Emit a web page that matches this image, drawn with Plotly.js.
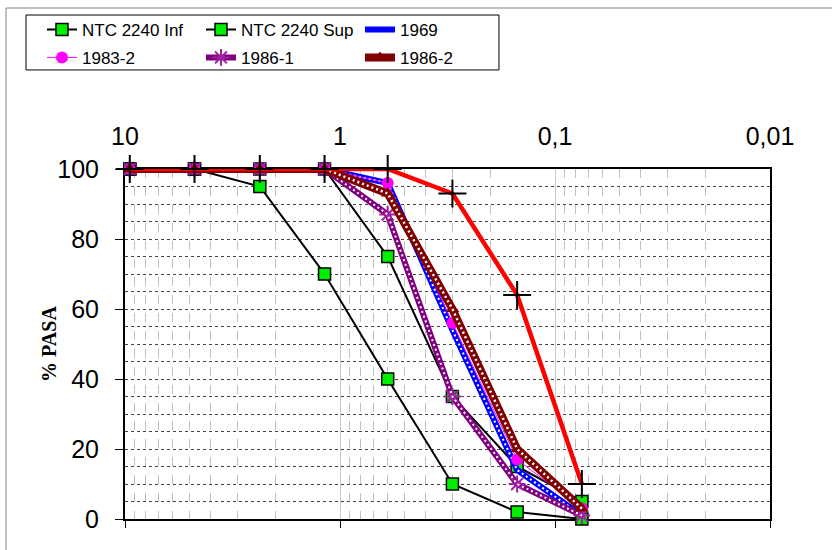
<!DOCTYPE html>
<html>
<head>
<meta charset="utf-8">
<script src="https://cdn.plot.ly/plotly-3.0.1.min.js"></script>
<style>
  html, body { margin: 0; padding: 0; background: #fff; }
  #chart { width: 832px; height: 550px; }
</style>
</head>
<body>
<div id="chart"></div>
<script>
// Sieve openings (mm)
const sizes = [9.5, 4.75, 2.36, 1.18, 0.6, 0.3, 0.15, 0.075];
// % passing
const ntcInf  = [100, 100, 95, 70, 40, 10, 2, 0];
const ntcSup  = [100, 100, 100, 100, 75, 35, 15, 5];
const s1969   = [100, 100, 100, 100, 96, 54, 14, 1];
const s1983_2 = [100, 100, 100, 100, 96, 56, 17, 3];
const s1986_1 = [100, 100, 100, 100, 87, 35, 10, 1];
const s1986_2 = [100, 100, 100, 100, 93, 60, 20, 3];
const sRed    = [100, 100, 100, 100, 100, 93, 64, 10];

const xTickVals = [10, 1, 0.1, 0.01];
const xTickText = ['10', '1', '0,1', '0,01'];
const yTickVals = [0, 20, 40, 60, 80, 100];

// minor log gridlines 2..9 within each decade
const minorVals = [];
[0.01, 0.1, 1].forEach(d => { for (let k = 2; k <= 9; k++) minorVals.push(+(k * d).toPrecision(3)); });

const whiteDots = (y, w) => ({
  x: sizes, y: y, mode: 'lines', showlegend: false, hoverinfo: 'skip', cliponaxis: false,
  line: {color: '#ffffff', width: w, dash: '2px,3px'}
});

const traces = [
  {name: 'NTC 2240 Inf', x: sizes, y: ntcInf, mode: 'lines+markers', legend: 'legend', cliponaxis: false,
   line: {color: '#000000', width: 2},
   marker: {symbol: 'square', size: 12, color: '#00ee00', line: {color: '#000000', width: 1.5}}},
  {name: 'NTC 2240 Sup', x: sizes, y: ntcSup, mode: 'lines+markers', legend: 'legend', cliponaxis: false,
   line: {color: '#000000', width: 2},
   marker: {symbol: 'square', size: 12, color: '#00ee00', line: {color: '#000000', width: 1.5}}},
  {name: '1969', x: sizes, y: s1969, mode: 'lines', legend: 'legend', cliponaxis: false,
   line: {color: '#0000ff', width: 6}},
  whiteDots(s1969, 2),
  {name: '1983-2', x: sizes, y: s1983_2, mode: 'lines+markers', legend: 'legend2', cliponaxis: false,
   line: {color: '#ff00ff', width: 1},
   marker: {symbol: 'circle', size: 12, color: '#ff00ff'}},
  {name: '1986-1', x: sizes, y: s1986_1, mode: 'lines+markers', legend: 'legend2', cliponaxis: false,
   line: {color: '#800080', width: 6},
   marker: {symbol: 'asterisk-open', size: 14, color: '#a020a0', line: {color: '#a020a0', width: 2}}},
  whiteDots(s1986_1, 2),
  {name: '1986-2', x: sizes, y: s1986_2, mode: 'lines+markers', legend: 'legend2', cliponaxis: false,
   line: {color: '#800000', width: 8},
   marker: {symbol: 'triangle-up', size: 12, color: '#800000'}},
  whiteDots(s1986_2, 2.5),
  {name: 'Serie 7', x: sizes, y: sRed, mode: 'lines+markers', showlegend: false, cliponaxis: false,
   line: {color: '#ff0000', width: 4.5},
   marker: {symbol: 'cross-thin-open', size: 20, color: '#000000', line: {color: '#000000', width: 2}}},
  // carrier for the bottom tick axis
  {x: sizes, y: sRed, xaxis: 'x2', mode: 'none', showlegend: false, hoverinfo: 'skip'}
];

const legendCommon = {
  orientation: 'h', xanchor: 'left', yanchor: 'top',
  entrywidth: 114, entrywidthmode: 'pixels',
  borderwidth: 0, bgcolor: 'rgba(0,0,0,0)',
  font: {family: 'Liberation Sans, Arial, sans-serif', size: 17, color: '#000000'}
};

const layout = {
  width: 832, height: 550,
  margin: {l: 125, r: 62, t: 169, b: 31},
  paper_bgcolor: '#ffffff', plot_bgcolor: '#ffffff',
  font: {family: 'Liberation Sans, Arial, sans-serif', color: '#000000'},
  showlegend: true,
  legend: Object.assign({x: -0.1287, y: 1.449}, legendCommon),
  legend2: Object.assign({x: -0.1287, y: 1.369}, legendCommon),
  xaxis: {
    type: 'log', range: [1, -2], side: 'top',
    tickmode: 'array', tickvals: xTickVals, ticktext: xTickText,
    ticks: '', ticklabelstandoff: 12,
    tickfont: {size: 25, family: 'Liberation Sans, Arial'},
    showgrid: true, gridcolor: '#c8c8c8', gridwidth: 1,
    minor: {tickmode: 'array', tickvals: minorVals, showgrid: true, gridcolor: '#c0c0c0', griddash: 'dash', gridwidth: 1, ticks: ''},
    showline: true, mirror: true, linecolor: '#000000', linewidth: 2,
    zeroline: false, layer: 'below traces'
  },
  xaxis2: {
    type: 'log', range: [1, -2], overlaying: 'x', anchor: 'y', side: 'bottom',
    tickmode: 'array', tickvals: xTickVals, showticklabels: false,
    ticks: 'outside', ticklen: 8, tickcolor: '#000000', tickwidth: 1,
    showgrid: false, showline: false, zeroline: false
  },
  yaxis: {
    range: [0, 100], tickmode: 'array', tickvals: yTickVals,
    ticks: 'outside', ticklen: 8, tickcolor: '#000000', tickwidth: 1,
    ticklabelstandoff: 11,
    tickfont: {size: 25, family: 'Liberation Sans, Arial'},
    showgrid: true, gridcolor: '#444444', griddash: 'dot', gridwidth: 1,
    minor: {dtick: 5, showgrid: true, gridcolor: '#444444', griddash: 'dot', gridwidth: 1, ticks: ''},
    showline: true, mirror: true, linecolor: '#000000', linewidth: 2,
    zeroline: false, layer: 'below traces'
  },
  annotations: [
    {text: '% PASA', xref: 'paper', yref: 'paper', x: -0.118, y: 0.5,
     xanchor: 'center', yanchor: 'middle', textangle: -90, showarrow: false,
     font: {family: 'Liberation Serif, Times New Roman, serif', size: 20, color: '#000000', weight: 'bold'}}
  ],
  shapes: [
    {type: 'rect', xref: 'paper', yref: 'paper', x0: -0.1845, x1: 1.2, y0: -0.2, y1: 1.46,
     line: {color: '#808080', width: 1}, fillcolor: 'rgba(0,0,0,0)', layer: 'below'},
    {type: 'rect', xref: 'paper', yref: 'paper', x0: -0.1535, x1: 0.5798, y0: 1.283, y1: 1.44,
     line: {color: '#000000', width: 1}, fillcolor: 'rgba(0,0,0,0)', layer: 'below'}
  ]
};

Plotly.newPlot('chart', traces, layout, {displayModeBar: false, staticPlot: true});
</script>
</body>
</html>
